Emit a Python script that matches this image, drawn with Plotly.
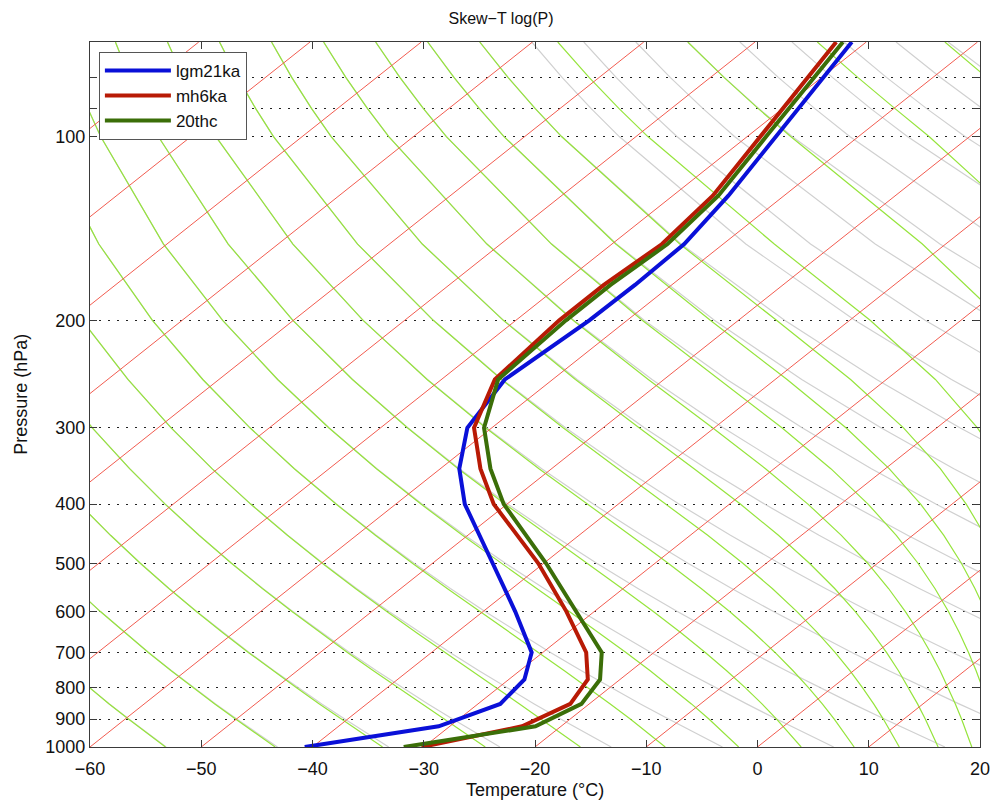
import numpy as np
import plotly.graph_objects as go

# ---------------------------------------------------------------------------
# Temperature profiles (deg C) on pressure levels (hPa)
# ---------------------------------------------------------------------------
levels_hpa = [1000, 925, 850, 775, 700, 600, 500, 400, 350, 300, 250, 200,
              175, 150, 125, 100, 70]
t_lgm21ka = [-40.7, -31.0, -28.0, -28.6, -31.0, -37.1, -44.6, -53.8, -58.3,
             -62.2, -64.3, -63.4, -63.3, -63.5, -65.0, -67.4, -71.3]
t_mh6ka = [-30.2, -23.5, -21.7, -22.9, -26.1, -32.5, -40.5, -51.2, -56.4,
           -61.6, -65.2, -66.1, -66.1, -65.5, -66.4, -68.8, -72.7]
t_20thc = [-31.8, -22.3, -20.7, -21.8, -24.7, -31.6, -39.8, -50.3, -55.5,
           -60.7, -64.9, -65.5, -65.5, -65.0, -65.9, -68.3, -72.1]

series_names = ["lgm21ka", "mh6ka", "20thc"]
series_colors = ["#0a10d8", "#b81a05", "#3b6e08"]

# Background families
isotherm_values = list(range(-150, 30, 10))          # deg C
dry_theta_values = list(range(200, 510, 10))          # K
theta_e_values = list(range(200, 370, 10)) + [375, 400, 425, 450, 475, 500]  # K

# Axis ticks
x_ticks = list(range(-60, 30, 10))
p_ticks = [80, 90, 100, 200, 300, 400, 500, 600, 700, 800, 900, 1000]
p_tick_text = ["", "", "100", "200", "300", "400", "500", "600", "700",
               "800", "900", "1000"]

# ---------------------------------------------------------------------------
# Skew-T geometry and thermodynamics
# ---------------------------------------------------------------------------
SKEW = 30.0        # deg C of skew per unit ln(1000/P)
P_REF = 1000.0
P_TOP = 70.0
KAPPA = 0.2857
LV = 2.5e6
CP = 1004.0
EPS = 0.622


def skew_x(t, p):
    return np.asarray(t) + SKEW * np.log(P_REF / np.asarray(p, dtype=float))


def sat_vapour_pressure(t):
    return 6.112 * np.exp(17.67 * t / (t + 243.5))


def theta_e(t, p):
    tk = t + 273.15
    es = np.minimum(sat_vapour_pressure(t), 0.5 * p)
    rs = EPS * es / (p - es)
    return tk * (P_REF / p) ** KAPPA * np.exp(LV * rs / (CP * tk))


def temp_for_theta_e(level, p):
    lo = np.full_like(p, -200.0)
    hi = np.full_like(p, 60.0)
    for _ in range(70):
        mid = 0.5 * (lo + hi)
        above = theta_e(mid, p) > level
        hi = np.where(above, mid, hi)
        lo = np.where(above, lo, mid)
    return 0.5 * (lo + hi)


# Both adiabat families are evaluated on the same 50 hPa pressure grid
p_grid = np.array(list(range(1000, 50, -50)) + [90, 80, 70], dtype=float)

fig = go.Figure()

# Dry adiabats
for th in dry_theta_values:
    t = th * (p_grid / P_REF) ** KAPPA - 273.15
    fig.add_trace(go.Scatter(x=skew_x(t, p_grid), y=p_grid, mode="lines",
                             line=dict(color="rgb(208,208,208)", width=1.2),
                             hoverinfo="skip", showlegend=False))

# Lines of constant equivalent potential temperature
for th_e in theta_e_values:
    t = temp_for_theta_e(th_e, p_grid)
    fig.add_trace(go.Scatter(x=skew_x(t, p_grid), y=p_grid, mode="lines",
                             line=dict(color="rgb(150,228,60)", width=1.2),
                             hoverinfo="skip", showlegend=False))

# Isotherms
p_ends = np.array([P_REF, P_TOP])
for t_iso in isotherm_values:
    fig.add_trace(go.Scatter(x=skew_x([t_iso, t_iso], p_ends), y=p_ends,
                             mode="lines",
                             line=dict(color="rgb(242,92,80)", width=1),
                             hoverinfo="skip", showlegend=False))

# Temperature profiles
for name, temps, color in zip(series_names, [t_lgm21ka, t_mh6ka, t_20thc],
                              series_colors):
    fig.add_trace(go.Scatter(x=skew_x(temps, levels_hpa), y=levels_hpa,
                             mode="lines", name=name,
                             line=dict(color=color, width=4)))

FONT = "Liberation Sans, Arial, Helvetica, sans-serif"
AXIS_COLOR = "#3a3a3a"

fig.update_layout(
    width=1002, height=808,
    margin=dict(l=90, r=19, t=42, b=61),
    paper_bgcolor="white", plot_bgcolor="white",
    font=dict(family=FONT, size=18, color="#111111"),
    title=dict(text="Skew\u2212T log(P)", x=0.5, xanchor="center",
               y=1 - 18 / 808, yanchor="middle",
               font=dict(size=16, family=FONT, color="#111111")),
    showlegend=True,
    legend=dict(x=0.01, y=0.986, xanchor="left", yanchor="top",
                bgcolor="white", bordercolor="#555555", borderwidth=1,
                font=dict(size=17, family=FONT), tracegroupgap=0,
                itemwidth=66),
    xaxis=dict(range=[-60, 20], tickvals=x_ticks, ticks="inside", ticklen=7,
               tickcolor=AXIS_COLOR, mirror="ticks", showline=True,
               linecolor=AXIS_COLOR, linewidth=1.3, showgrid=False,
               zeroline=False, tickfont=dict(size=18),
               ticklabelstandoff=5),
    yaxis=dict(type="log", range=[np.log10(P_REF), np.log10(P_TOP)],
               tickvals=p_ticks, ticktext=p_tick_text, ticks="inside",
               ticklen=7, tickcolor=AXIS_COLOR, mirror="ticks",
               showline=True, linecolor=AXIS_COLOR, linewidth=1.3,
               showgrid=True, gridcolor="#222222", gridwidth=1.3,
               griddash="1.5px,7.5px", zeroline=False,
               tickfont=dict(size=18)),
    annotations=[
        dict(text="Temperature (\u00b0C)", xref="paper", yref="paper",
             x=0.5, y=(747 - 789.5) / 705, xanchor="center",
             yanchor="middle", showarrow=False, font=dict(size=18)),
        dict(text="Pressure (hPa)", xref="paper", yref="paper",
             x=(20 - 90) / 893, y=0.5, xanchor="center", yanchor="middle",
             textangle=-90, showarrow=False, font=dict(size=18)),
    ],
)

fig.write_html("out.html")
